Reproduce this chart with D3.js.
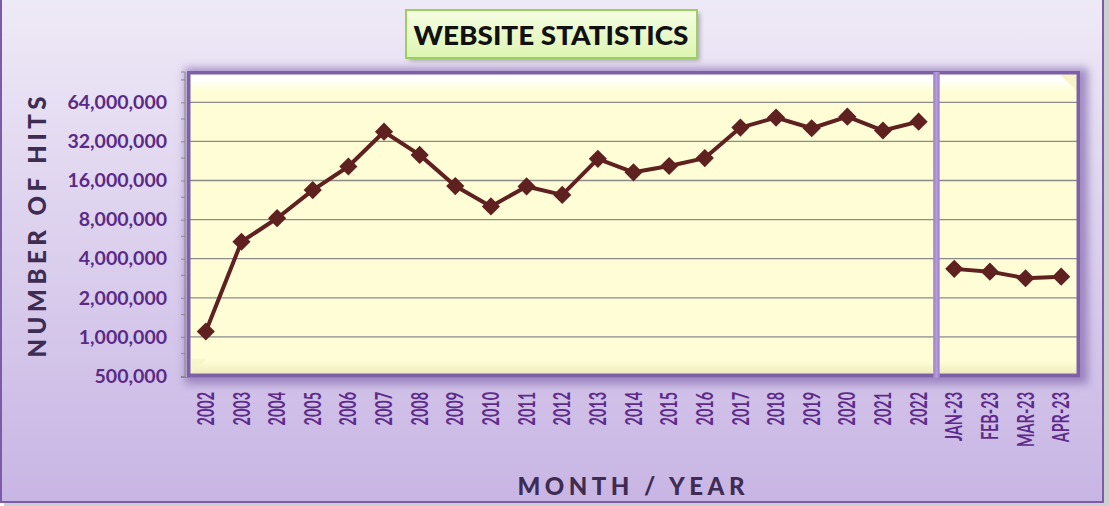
<!DOCTYPE html>
<html><head><meta charset="utf-8">
<script src="https://cdn.jsdelivr.net/npm/d3@7"></script>
<style>body{margin:0;padding:0;background:#fff;overflow:hidden}svg{display:block}</style>
</head><body>
<svg id="chart" width="1109" height="506"></svg>
<script>
const categories = ["2002","2003","2004","2005","2006","2007","2008","2009","2010","2011","2012","2013","2014","2015","2016","2017","2018","2019","2020","2021","2022","JAN-23","FEB-23","MAR-23","APR-23"];
const yearlyHits = [1100000,5400000,8200000,13500000,20500000,38000000,25200000,14500000,10100000,14400000,12400000,23500000,18500000,20700000,23800000,40900000,48800000,40400000,49600000,38800000,45400000];
const monthlyHits = [3340000,3180000,2830000,2910000];
const majorTicks = [500000,1000000,2000000,4000000,8000000,16000000,32000000,64000000];
const minorTicks = [750000,1500000,3000000,6000000,12000000,24000000,48000000,96000000];
const titleText = "WEBSITE STATISTICS";
const yTitle = "NUMBER OF HITS";
const xTitle = "MONTH / YEAR";

const svg = d3.select("#chart");
const defs = svg.append("defs");

const bg = defs.append("linearGradient").attr("id","bg").attr("x1",0).attr("y1",0).attr("x2",0).attr("y2",1);
bg.append("stop").attr("offset",0).attr("stop-color","#efeaf7");
bg.append("stop").attr("offset",1).attr("stop-color","#c8b5e4");

const tg = defs.append("linearGradient").attr("id","tg").attr("x1",0).attr("y1",0).attr("x2",0).attr("y2",1);
tg.append("stop").attr("offset",0).attr("stop-color","#f6fde3");
tg.append("stop").attr("offset",1).attr("stop-color","#dcf5b2");

const topBevel = defs.append("linearGradient").attr("id","topBevel").attr("x1",0).attr("y1",0).attr("x2",0).attr("y2",1);
topBevel.append("stop").attr("offset",0).attr("stop-color","#ffffff").attr("stop-opacity",1);
topBevel.append("stop").attr("offset",0.4).attr("stop-color","#ffffff").attr("stop-opacity",0.9);
topBevel.append("stop").attr("offset",1).attr("stop-color","#ffffff").attr("stop-opacity",0);
const botBevel = defs.append("linearGradient").attr("id","botBevel").attr("x1",0).attr("y1",0).attr("x2",0).attr("y2",1);
botBevel.append("stop").attr("offset",0).attr("stop-color","#f0eec0").attr("stop-opacity",0);
botBevel.append("stop").attr("offset",1).attr("stop-color","#eeebbf").attr("stop-opacity",1);

const blur4 = defs.append("filter").attr("id","blur4").attr("x","-10%").attr("y","-20%").attr("width","120%").attr("height","140%");
blur4.append("feGaussianBlur").attr("stdDeviation",4);
const blur2 = defs.append("filter").attr("id","blur2").attr("x","-10%").attr("y","-30%").attr("width","120%").attr("height","160%");
blur2.append("feGaussianBlur").attr("stdDeviation",2);

// outer frame
svg.append("rect").attr("x",4).attr("y",-5).attr("width",1105).attr("height",511).attr("fill","#cfcfcf");
svg.append("rect").attr("x",1).attr("y",-5).attr("width",1102).attr("height",507)
  .attr("fill","url(#bg)").attr("stroke","#7b5ca8").attr("stroke-width",2);

// scales
const x = d3.scaleBand().domain(categories).range([188,1079]).paddingInner(0).paddingOuter(0);
const cx = d => x(d) + x.bandwidth()/2;
const y = d3.scaleLog().base(2).domain([500000,64000000]).range([376,102.3]);

const plot = {x0:187, y0:71, x1:1080, y1:377};

// plot shadow
svg.append("rect").attr("x",plot.x0-2).attr("y",plot.y0-3).attr("width",plot.x1-plot.x0+10).attr("height",plot.y1-plot.y0+10)
  .attr("fill","#8a70b2").attr("opacity",0.75).attr("filter","url(#blur4)");

// y axis line with ticks (behind plot)
const yAxisLine = svg.append("g").attr("transform","translate(185,0)")
  .call(d3.axisLeft(y).tickValues(majorTicks.concat(minorTicks)).tickSize(4).tickFormat(""));
yAxisLine.select(".domain").attr("stroke","#8a8a8a").attr("d","M-4,72H0V377H-4");
yAxisLine.selectAll(".tick line").attr("stroke","#8a8a8a");
yAxisLine.selectAll(".tick").filter(d => y(d) < 72).remove();
svg.append("line").attr("x1",181).attr("x2",plot.x1).attr("y1",377.5).attr("y2",377.5).attr("stroke","#8a8a8a");

// plot area
svg.append("rect").attr("x",plot.x0+1.75).attr("y",plot.y0+1.75).attr("width",plot.x1-plot.x0-3.5).attr("height",plot.y1-plot.y0-3.5)
  .attr("fill","#fefdd6");
svg.append("rect").attr("x",plot.x0+3.5).attr("y",plot.y0+3.5).attr("width",plot.x1-plot.x0-7).attr("height",16).attr("fill","url(#topBevel)");
svg.append("rect").attr("x",plot.x0+3.5).attr("y",plot.y1-16).attr("width",plot.x1-plot.x0-7).attr("height",12.5).attr("fill","url(#botBevel)");
svg.append("path").attr("d",`M${plot.x0+3.5},${plot.y1-3.5}L${plot.x0+20},${plot.y1-18}L${plot.x0+3.5},${plot.y1-18}Z`).attr("fill","#f6f4cc").attr("opacity",0.8);
svg.append("path").attr("d",`M${plot.x1-3.5},${plot.y0+3.5}L${plot.x1-20},${plot.y0+3.5}L${plot.x1-3.5},${plot.y0+20}Z`).attr("fill","#f7f5c8");

// gridlines
svg.append("g").selectAll("line").data(majorTicks.filter(v => v > 500000)).join("line")
  .attr("x1",plot.x0+3).attr("x2",plot.x1-3).attr("y1",d=>y(d)).attr("y2",d=>y(d))
  .attr("stroke","#8b8b8b").attr("stroke-width",1.3);

// plot border
svg.append("rect").attr("x",plot.x0+1.75).attr("y",plot.y0+1.75).attr("width",plot.x1-plot.x0-3.5).attr("height",plot.y1-plot.y0-3.5)
  .attr("fill","none").attr("stroke","#7d61a7").attr("stroke-width",3.5);

// separator between yearly and monthly
const sepX = cx("2022") + x.step()/2;
svg.append("line").attr("x1",sepX).attr("x2",sepX).attr("y1",plot.y0+1).attr("y2",plot.y1+1)
  .attr("stroke","#a688d0").attr("stroke-width",6.5);
svg.append("line").attr("x1",sepX).attr("x2",sepX).attr("y1",plot.y0+1).attr("y2",plot.y1+1)
  .attr("stroke","#b59edb").attr("stroke-width",2);

// series
const yearly = categories.slice(0,yearlyHits.length).map((c,i)=>({c,v:yearlyHits[i]}));
const monthly = categories.slice(yearlyHits.length).map((c,i)=>({c,v:monthlyHits[i]}));
const line = d3.line().x(d=>cx(d.c)).y(d=>y(d.v));
const lineColor = "#5f2020";
[yearly, monthly].forEach(s => {
  svg.append("path").datum(s).attr("d",line).attr("fill","none").attr("stroke",lineColor).attr("stroke-width",4).attr("stroke-linejoin","round");
});
const sym = d3.symbol(d3.symbolSquare, 165);
svg.append("g").selectAll("path").data(yearly.concat(monthly)).join("path")
  .attr("d",sym).attr("transform",d=>`translate(${cx(d.c)},${y(d.v)}) rotate(45)`).attr("fill",lineColor);

// y tick labels
const yLab = svg.append("g").attr("transform","translate(185,0)")
  .call(d3.axisLeft(y).tickValues(majorTicks).tickSize(0).tickPadding(18).tickFormat(d3.format(",")));
yLab.select(".domain").remove();
yLab.selectAll("text").attr("font-family","Lato").attr("font-weight","bold").attr("font-size",19.5).attr("fill","#5b2a86");

// x tick labels
const xLab = svg.append("g").attr("transform","translate(0,377)")
  .call(d3.axisBottom(x).tickSize(0));
xLab.select(".domain").remove();
const xt = xLab.selectAll("text").attr("font-family","Lato").attr("font-weight","bold").attr("font-size",22.5).attr("fill","#5e2b8a")
  .attr("text-anchor","end").attr("x",0).attr("y",0).attr("dy","0.36em");
let ref = 0;
xt.each(function(d){ if(d==="2002") ref = this.getComputedTextLength(); });
const sx = 33.5/ (ref || 52);
xt.attr("transform",`translate(0,15) rotate(-90) scale(${sx},1)`);

// axis titles
svg.append("text").text(yTitle).attr("transform","translate(37,227) rotate(-90)")
  .attr("text-anchor","middle").attr("dy","0.36em").attr("font-family","Lato").attr("font-weight",900)
  .attr("font-size",24).attr("fill","#3e2c52").attr("textLength",261).attr("lengthAdjust","spacing");
svg.append("text").text(xTitle).attr("x",631).attr("y",495)
  .attr("text-anchor","middle").attr("font-family","Lato").attr("font-weight",900)
  .attr("font-size",24).attr("fill","#3e2c52").attr("textLength",227).attr("lengthAdjust","spacing");

// title box
svg.append("rect").attr("x",409).attr("y",13).attr("width",291).attr("height",48).attr("fill","#7a7a7a").attr("opacity",0.55).attr("filter","url(#blur2)");
svg.append("rect").attr("x",406).attr("y",10).attr("width",291).attr("height",48)
  .attr("fill","url(#tg)").attr("stroke","#9dcf60").attr("stroke-width",2);
svg.append("text").text(titleText).attr("x",551).attr("y",44.5).attr("text-anchor","middle")
  .attr("font-family","Lato").attr("font-weight",900).attr("font-size",27).attr("fill","#111")
  .attr("textLength",275).attr("lengthAdjust","spacingAndGlyphs");
</script>
</body></html>
